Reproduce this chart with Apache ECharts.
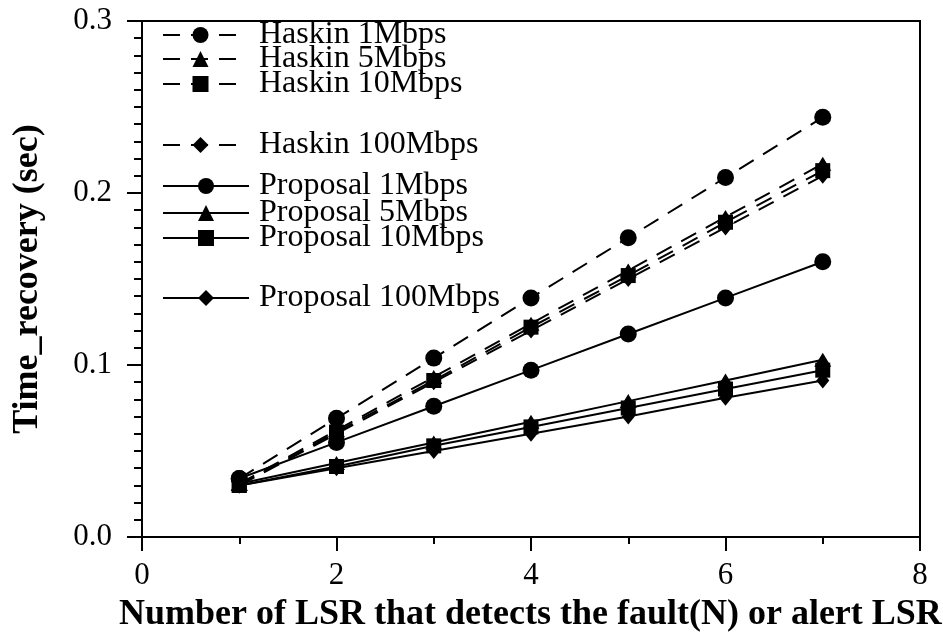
<!DOCTYPE html>
<html><head><meta charset="utf-8">
<script src="https://cdn.jsdelivr.net/npm/echarts@6/dist/echarts.min.js"></script>
<style>html,body{margin:0;padding:0;background:#fff}#c{width:943px;height:640px}</style>
</head><body><div id="c"></div>
<script>
var xValues = [1, 2, 3, 4, 5, 6, 7];
var haskin1 = [0.034, 0.069, 0.104, 0.139, 0.174, 0.209, 0.244];
var haskin5 = [0.031, 0.062, 0.093, 0.124, 0.155, 0.186, 0.217];
var haskin10 = [0.030, 0.061, 0.091, 0.122, 0.152, 0.183, 0.213];
var haskin100 = [0.030, 0.060, 0.090, 0.120, 0.150, 0.180, 0.210];
var proposal1 = [0.034, 0.055, 0.076, 0.097, 0.118, 0.139, 0.160];
var proposal5 = [0.031, 0.043, 0.055, 0.067, 0.079, 0.091, 0.103];
var proposal10 = [0.030, 0.041, 0.053, 0.064, 0.075, 0.086, 0.097];
var proposal100 = [0.030, 0.040, 0.050, 0.060, 0.070, 0.081, 0.091];
var seriesNames = ['Haskin 1Mbps','Haskin 5Mbps','Haskin 10Mbps','Haskin 100Mbps','Proposal 1Mbps','Proposal 5Mbps','Proposal 10Mbps','Proposal 100Mbps'];
var seriesData = [haskin1, haskin5, haskin10, haskin100, proposal1, proposal5, proposal10, proposal100];
var symbols = ['circle','triangle','rect','diamond','circle','triangle','rect','diamond'];
var dashed = [true,true,true,true,false,false,false,false];
var xTitle = 'Number of LSR that detects the fault(N) or alert LSR';
var yTitle = 'Time_recovery (sec)';

var FONT = 'Liberation Serif';
var symSizes = {circle:17, triangle:[17,14], rect:15, diamond:[13,16]};
var legendCenters = [34, 58, 83, 144, 185, 212, 237, 297];

var series = seriesNames.map(function(n, i){
  return {
    name: n, type: 'line',
    data: xValues.map(function(x, j){ return [x, seriesData[i][j]]; }),
    symbol: symbols[i], symbolSize: symSizes[symbols[i]],
    showAllSymbol: true,
    itemStyle: {color: '#000'},
    lineStyle: {color: '#000', width: 2, type: dashed[i] ? [17, 11] : 'solid'},
    animation: false
  };
});
var legends = seriesNames.map(function(n, i){
  var w = dashed[i] ? 75 : 86;
  return {
    data: [n], left: 157, top: legendCenters[i] - 20,
    itemWidth: w, itemHeight: 20,
    textStyle: {fontFamily: FONT, fontSize: 32, color: '#000', lineHeight: 30,
      padding: [0, 0, 0, dashed[i] ? 16 : 5]},
    selectedMode: false
  };
});

var chart = echarts.init(document.getElementById('c'), null, {renderer: 'canvas'});
chart.setOption({
  backgroundColor: '#fff',
  animation: false,
  title: {text: xTitle, left: 114, top: 592,
    textStyle: {fontFamily: FONT, fontSize: 36, fontWeight: 'bold', color: '#000'}},
  legend: legends,
  grid: {left: 142, right: 23, top: 21, bottom: 103, show: true, borderColor: '#000', borderWidth: 2, backgroundColor: 'transparent'},
  xAxis: {
    type: 'value', min: 0, max: 8, interval: 2,
    axisLine: {lineStyle: {color: '#000', width: 2}},
    axisTick: {show: true, length: 14, lineStyle: {color: '#000', width: 2}},
    minorTick: {show: true, splitNumber: 2, length: 7, lineStyle: {color: '#000', width: 2}},
    splitLine: {show: false},
    axisLabel: {fontFamily: FONT, fontSize: 31, color: '#000', margin: 23}
  },
  yAxis: {
    type: 'value', min: 0, max: 0.3, interval: 0.1,
    name: yTitle, nameLocation: 'middle', nameGap: 96, nameRotate: 90,
    nameTextStyle: {fontFamily: FONT, fontSize: 36, fontWeight: 'bold', color: '#000'},
    axisLine: {lineStyle: {color: '#000', width: 2}},
    axisTick: {show: true, length: 15, lineStyle: {color: '#000', width: 2}},
    minorTick: {show: true, splitNumber: 10, length: 8, lineStyle: {color: '#000', width: 2}},
    splitLine: {show: false},
    axisLabel: {fontFamily: FONT, fontSize: 31, color: '#000', margin: 30,
      formatter: function(v){ return v.toFixed(1); }}
  },
  series: series
});
</script></body></html>
